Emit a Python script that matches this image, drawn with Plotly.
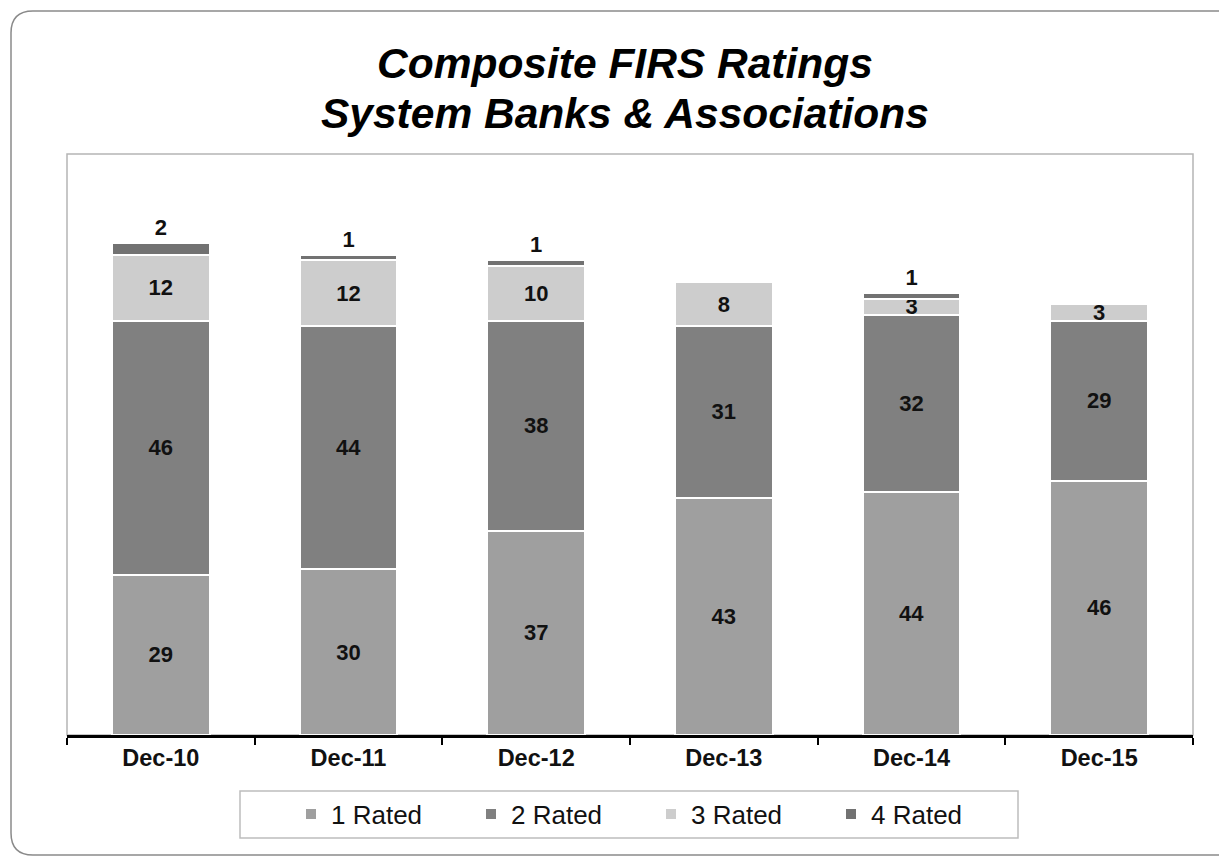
import plotly.graph_objects as go

categories = ["Dec-10", "Dec-11", "Dec-12", "Dec-13", "Dec-14", "Dec-15"]
rated1 = [29, 30, 37, 43, 44, 46]
rated2 = [46, 44, 38, 31, 32, 29]
rated3 = [12, 12, 10, 8, 3, 3]
rated4 = [2, 1, 1, 0, 1, 0]

series = [
    ("1 Rated", rated1, "#9f9f9f"),
    ("2 Rated", rated2, "#808080"),
    ("3 Rated", rated3, "#cdcdcd"),
    ("4 Rated", rated4, "#727272"),
]

FONT = "Liberation Sans, Arial, sans-serif"

# page layout (the page body has an 8px margin)
OFF = 8
PL, PR, PT, PB = 67, 1193, 154, 735  # plot area in page pixels
W, H = 1227 - OFF, 857 - OFF
L, T = PL - OFF, PT - OFF
R = W - (PR - OFF)
B = H - (PB - OFF)
pw, ph = PR - PL, PB - PT

def px2x(x):
    return (x - PL) / pw

def py2y(y):
    return (PB - y) / ph

fig = go.Figure()
for i, (name, vals, color) in enumerate(series):
    labels = [str(v) if v else "" for v in vals]
    fig.add_trace(go.Bar(
        name=name, x=categories, y=vals,
        marker=dict(color=color, line=dict(color="white", width=2)),
        text=labels,
        textposition="outside" if i == 3 else "inside",
        insidetextanchor="middle",
        textangle=0,
        constraintext="none",
        cliponaxis=False,
        textfont=dict(family=FONT, size=22, color="#111111", weight="bold"),
        hoverinfo="skip",
    ))

# rounded outer frame
x0, x1 = px2x(11), px2x(1238)
y0, y1 = py2y(855), py2y(11)
rx, ry = 22 / pw, 22 / ph
path = (f"M {x0+rx},{y1} L {x1-rx},{y1} Q {x1},{y1} {x1},{y1-ry} "
        f"L {x1},{y0+ry} Q {x1},{y0} {x1-rx},{y0} L {x0+rx},{y0} "
        f"Q {x0},{y0} {x0},{y0+ry} L {x0},{y1-ry} Q {x0},{y1} {x0+rx},{y1} Z")

title_font = dict(family=FONT, size=42.5, color="black")

fig.update_layout(
    width=W, height=H,
    margin=dict(l=L, r=R, t=T, b=B, autoexpand=False),
    paper_bgcolor="white", plot_bgcolor="white",
    barmode="stack", bargap=0.48,
    showlegend=True,
    legend=dict(
        orientation="h", x=px2x(291), xanchor="left",
        y=py2y(814), yanchor="middle",
        bgcolor="rgba(0,0,0,0)", borderwidth=0,
        font=dict(family=FONT, size=26, color="#111111"),
        entrywidth=135, entrywidthmode="pixels",
        traceorder="normal",
        itemclick=False, itemdoubleclick=False,
    ),
    xaxis=dict(
        type="category", showline=True, linecolor="black", linewidth=3,
        ticks="outside", tickson="boundaries", ticklen=7, tickwidth=2, tickcolor="black",
        tickfont=dict(family=FONT, size=23.5, color="#111111", weight="bold"),
        showgrid=False, zeroline=False,
    ),
    yaxis=dict(range=[0, 105.2], visible=False, showgrid=False, zeroline=False),
    annotations=[
        dict(text="<b><i>Composite FIRS Ratings</i></b>", xref="paper", yref="paper",
             x=px2x(625), y=py2y(64), xanchor="center", yanchor="middle",
             showarrow=False, font=title_font),
        dict(text="<b><i>System Banks &amp; Associations</i></b>", xref="paper", yref="paper",
             x=px2x(625), y=py2y(113), xanchor="center", yanchor="middle",
             showarrow=False, font=title_font),
    ],
    shapes=[
        dict(type="path", xref="paper", yref="paper", path=path,
             line=dict(color="#8a8a8a", width=1.5), layer="below"),
        dict(type="rect", xref="paper", yref="paper", x0=0, x1=1, y0=0, y1=1,
             line=dict(color="#b5b5b5", width=1.5), layer="below"),
        dict(type="rect", xref="paper", yref="paper",
             x0=px2x(240), x1=px2x(1018), y0=py2y(838), y1=py2y(791),
             line=dict(color="#bdbdbd", width=1.5), layer="below"),
    ],
)

fig.write_html("out.html")
